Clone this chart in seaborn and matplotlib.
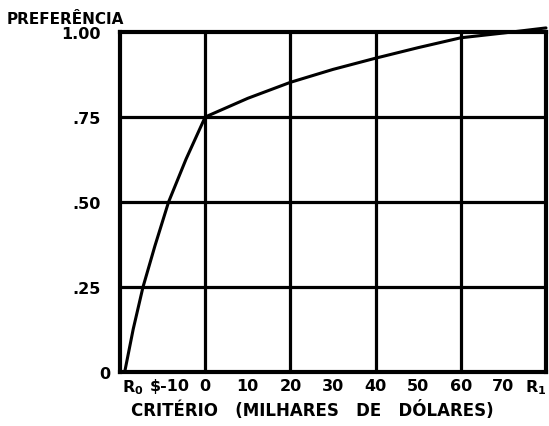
import matplotlib
matplotlib.use("Agg")
import matplotlib.pyplot as plt
import matplotlib.transforms as mtransforms
import seaborn as sns
import pandas as pd

# Data
criterio = [-18.9, -16.9, -14.6, -11.8, -8.6, -4.5, 0,
            10, 20, 30, 40, 50, 60, 70, 80]
preferencia = [0.0, 0.126, 0.25, 0.371, 0.50, 0.626, 0.75,
               0.805, 0.852, 0.89, 0.923, 0.954, 0.983, 0.997, 1.012]
xtick_pos = [-20, -10, 0, 10, 20, 30, 40, 50, 60, 70, 80]
xtick_labels = ["R$_\\mathregular{0}$", "\\$-10", "0", "10", "20", "30", "40", "50", "60", "70", "R$_\\mathregular{1}$"]
ytick_pos = [0, 0.25, 0.5, 0.75, 1.0]
ytick_labels = ["0", ".25", ".50", ".75", "1.00"]
grid_x = [0, 20, 40, 60]

sns.set_style("white")
plt.rcParams['font.family'] = ['DejaVu Sans']
plt.rcParams['mathtext.default'] = 'regular'
for k in ["text.color", "axes.labelcolor", "xtick.color", "ytick.color"]:
    plt.rcParams[k] = "black"

df = pd.DataFrame({"x": criterio, "y": preferencia})

fig = plt.figure(figsize=(5.49, 4.27), dpi=100)
ax = fig.add_axes([120/549, 1-373/427, (546-120)/549, (373-33)/427])

for gx in grid_x:
    ax.axvline(gx, color="black", lw=2.3, zorder=1)
for gy in ytick_pos[1:-1]:
    ax.axhline(gy, color="black", lw=2.3, zorder=1)

sns.lineplot(data=df, x="x", y="y", ax=ax, color="black", lw=2.2, zorder=3,
             estimator=None, sort=False)
for line in ax.get_lines():
    line.set_clip_on(False)
    line.set_solid_joinstyle("round")

ax.set_xlim(-20, 80)
ax.set_ylim(0, 1.0)
for s in ax.spines.values():
    s.set_color("black")
    s.set_linewidth(3.0)

ax.set_xticks(xtick_pos)
ax.set_xticklabels(xtick_labels, fontsize=11.5, fontweight="bold")
ax.set_yticks(ytick_pos)
ax.set_yticklabels(ytick_labels, fontsize=11.5, fontweight="bold")
ax.tick_params(axis="x", length=0, pad=4)
ax.tick_params(axis="y", length=2, width=2, pad=12, color="black")
xl = ax.get_xticklabels()
xl[0].set_ha("left")
xl[0].set_transform(xl[0].get_transform() + mtransforms.ScaledTranslation(2/100, 0, fig.dpi_scale_trans))
xl[1].set_transform(xl[1].get_transform() + mtransforms.ScaledTranslation(7/100, 0, fig.dpi_scale_trans))
xl[-1].set_ha("right")
yl = ax.get_yticklabels()
yl[0].set_transform(yl[0].get_transform() + mtransforms.ScaledTranslation(10/100, 0, fig.dpi_scale_trans))

ax.set_xlabel("CRITÉRIO   (MILHARES   DE   DÓLARES)", fontsize=12, fontweight="bold")
ax.xaxis.label.set_va("center")
ax.xaxis.set_label_coords((312-120)/426, -(411-373)/340)
ax.set_ylabel("")
fig.text(7/549, 1-19/427, "PREFERÊNCIA", fontsize=11, fontweight="bold", ha="left", va="center")

fig.savefig("out.png", dpi=100)
